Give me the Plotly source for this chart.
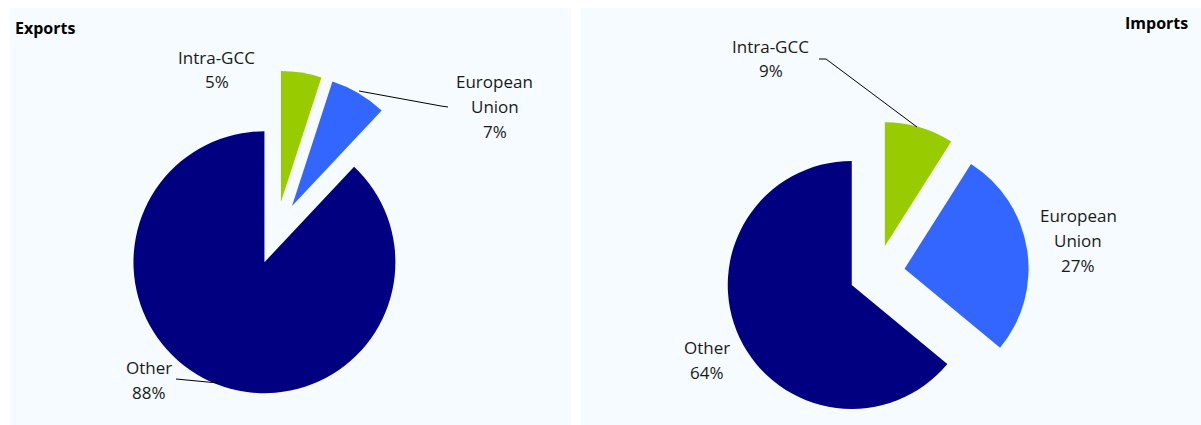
import plotly.graph_objects as go

# ---- data ----
regions = ["Intra-GCC", "European Union", "Other"]
exports_pct = [5, 7, 88]
imports_pct = [9, 27, 64]
label_names = [["Intra-GCC"], ["European", "Union"], ["Other"]]
colors = ["#99CC00", "#3366FF", "#000080"]

W, H = 1201, 425

def px(x):
    return x / W

def py(y):
    return 1 - y / H

FONT = "Open Sans"
TXT = "#1a1a1a"
PANEL = "#F5FBFE"

fig = go.Figure()

fig.add_trace(go.Pie(
    labels=regions, values=exports_pct, sort=False, direction="clockwise", rotation=0,
    pull=[0.24, 0.24, 0.24], textinfo="none", hoverinfo="label+percent",
    marker=dict(colors=colors, line=dict(width=0)), showlegend=False,
    domain=dict(x=[px(113.6), px(438.4)], y=[py(395.4), py(70.6)]),
))
fig.add_trace(go.Pie(
    labels=regions, values=imports_pct, sort=False, direction="clockwise", rotation=0,
    pull=[0.225, 0.225, 0.225], textinfo="none", hoverinfo="label+percent",
    marker=dict(colors=colors, line=dict(width=0)), showlegend=False,
    domain=dict(x=[px(725.1), px(1028.9)], y=[0.0, py(121.1)]),
))

# label placement (centre x, first line centre y) per slice
export_label_pos = [(217, 57), (495, 82), (149, 367)]
import_label_pos = [(771, 46), (1078, 215), (707, 347)]
LINE_GAP = 25

annotations = []
for values, positions in ((exports_pct, export_label_pos), (imports_pct, import_label_pos)):
    for names, v, (cx, cy) in zip(label_names, values, positions):
        lines = names + [f"{v}%"]
        for i, t in enumerate(lines):
            annotations.append(dict(
                x=px(cx), y=py(cy + i * LINE_GAP), xref="paper", yref="paper",
                text=t, showarrow=False, xanchor="center", yanchor="middle",
                font=dict(family=FONT, size=17, color=TXT),
            ))

annotations.append(dict(x=px(13), y=py(28), xref="paper", yref="paper", text="<b>Exports</b>",
                        showarrow=False, xanchor="left", yanchor="middle",
                        font=dict(family=FONT, size=16, color="#000000")))
annotations.append(dict(x=px(1190), y=py(23), xref="paper", yref="paper", text="<b>Imports</b>",
                        showarrow=False, xanchor="right", yanchor="middle",
                        font=dict(family=FONT, size=16, color="#000000")))

# leader lines
leaders = [
    [(359, 91), (441, 106), (448, 107)],
    [(176, 379), (218, 383)],
    [(819, 59), (826, 59), (917, 127)],
]
shapes = [
    dict(type="rect", xref="paper", yref="paper", x0=px(10), x1=px(571), y0=0, y1=py(8),
         fillcolor=PANEL, line=dict(width=0), layer="below"),
    dict(type="rect", xref="paper", yref="paper", x0=px(581), x1=1, y0=0, y1=py(8),
         fillcolor=PANEL, line=dict(width=0), layer="below"),
]
for pts in leaders:
    path = "M " + " L ".join(f"{px(x)},{py(y)}" for x, y in pts)
    shapes.append(dict(type="path", xref="paper", yref="paper", path=path,
                       line=dict(color="#000000", width=1), layer="above"))

fig.update_layout(
    width=W, height=H, margin=dict(l=0, r=0, t=0, b=0),
    paper_bgcolor="#FFFFFF", plot_bgcolor="#FFFFFF",
    annotations=annotations, shapes=shapes,
    font=dict(family=FONT),
)

fig.write_html(
    "out.html",
    config={"displayModeBar": False},
    post_script="document.body.style.margin='0';document.body.style.overflow='hidden';",
)
